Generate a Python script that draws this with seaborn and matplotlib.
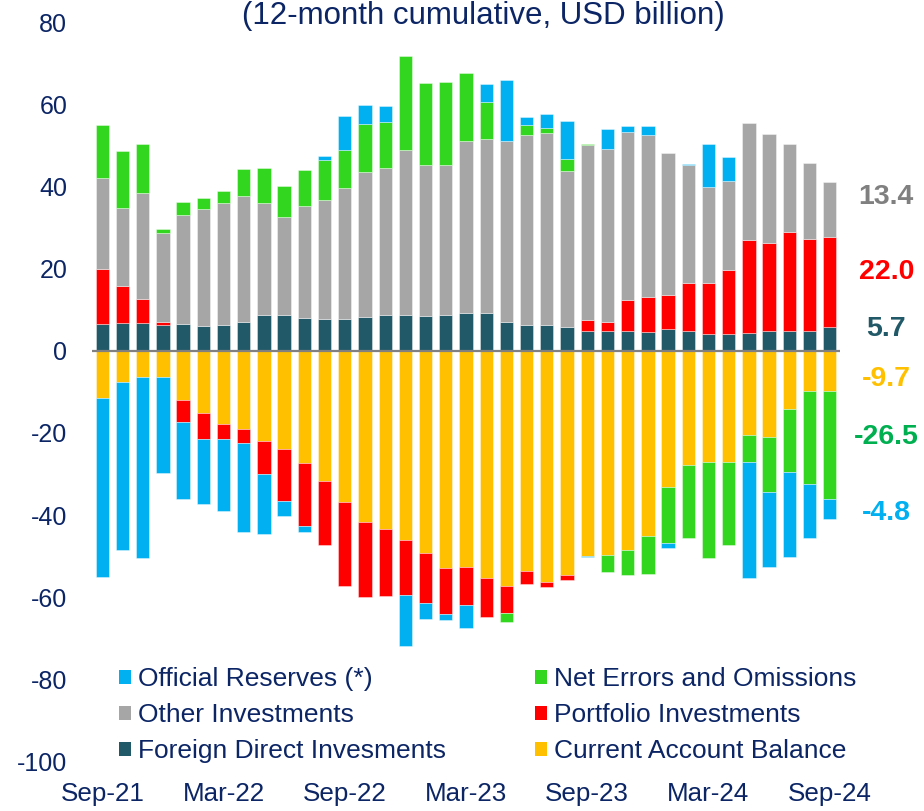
import numpy as np
import pandas as pd
import matplotlib
matplotlib.use("Agg")
import matplotlib.pyplot as plt
from matplotlib.patches import Patch
import seaborn as sns

# ---------------- data ----------------
months = pd.date_range("2021-09-01", "2024-09-01", freq="MS").strftime("%b-%y").tolist()

current_account = [-11.4, -7.6, -6.5, -6.5, -12.0, -15.2, -17.8, -19.1, -22.0, -23.9,
                   -27.4, -31.7, -36.9, -41.6, -43.3, -46.0, -49.2, -53.0, -52.7, -55.3,
                   -57.2, -53.6, -56.3, -54.6, -50.0, -49.6, -48.6, -45.1, -33.1, -27.8,
                   -27.0, -27.2, -20.5, -20.9, -14.3, -9.9, -9.7]
fdi = [6.5, 6.7, 6.7, 6.3, 6.6, 5.9, 6.2, 6.9, 8.6, 8.8,
       8.0, 7.6, 7.6, 8.1, 8.8, 8.6, 8.4, 8.8, 9.1, 9.1,
       7.1, 6.2, 6.3, 5.8, 4.7, 4.7, 4.8, 4.5, 5.4, 4.7,
       4.0, 4.0, 4.3, 4.7, 4.8, 4.7, 5.7]
portfolio = [13.5, 9.0, 6.0, 0.8, -5.3, -6.2, -3.7, -3.3, -8.0, -12.6,
             -15.2, -15.7, -20.3, -18.3, -16.4, -13.4, -12.2, -11.1, -9.2, -9.6,
             -6.6, -3.2, -1.3, -1.2, 2.8, 2.4, 7.5, 8.5, 8.2, 11.9,
             12.4, 15.7, 22.6, 21.4, 24.0, 22.4, 22.0]
other_inv = [22.1, 19.1, 25.8, 21.6, 26.5, 28.7, 29.8, 30.7, 27.4, 23.7,
             27.1, 29.2, 32.1, 35.3, 35.6, 40.3, 36.7, 36.5, 42.0, 42.4,
             43.9, 46.3, 46.7, 38.0, 42.6, 42.1, 41.0, 39.6, 34.4, 28.6,
             23.5, 21.7, 28.6, 26.7, 21.6, 18.6, 13.4]
net_errors = [12.8, 13.7, 11.8, 1.0, 3.0, 2.6, 2.9, 6.6, 8.4, 7.7,
              8.9, 9.5, 9.2, 11.8, 11.3, 22.8, 20.1, 20.2, 16.4, 9.0,
              -2.2, 2.5, 1.2, 2.9, 0.3, -4.2, -6.1, -9.3, -13.7, -17.7,
              -23.4, -20.0, -6.7, -13.6, -15.2, -22.6, -26.5]
reserves = [-43.6, -40.9, -43.9, -23.3, -18.8, -15.9, -17.4, -21.8, -14.5, -3.7,
            -1.5, 1.1, 8.2, 4.7, 3.9, -12.4, -3.9, -1.4, -5.5, 4.4,
            14.9, 1.9, 3.5, 9.1, -0.3, 4.7, 1.5, 2.0, -1.1, 0.3,
            10.5, 5.8, -28.1, -18.2, -20.8, -13.1, -4.8]

series_names = ["Current Account Balance", "Foreign Direct Invesments", "Portfolio Investments",
                "Other Investments", "Net Errors and Omissions", "Official Reserves (*)"]
series_values = [current_account, fdi, portfolio, other_inv, net_errors, reserves]
series_colors = ["#FFC000", "#215968", "#FF0000", "#A6A6A6", "#33D61E", "#00B0F0"]
label_colors = ["#FFC000", "#215968", "#FF0000", "#808080", "#00B050", "#00B0F0"]

yticks = [-100, -80, -60, -40, -20, 0, 20, 40, 60, 80]
xtick_labels = ["Sep-21", "Mar-22", "Sep-22", "Mar-23", "Sep-23", "Mar-24", "Sep-24"]

NAVY = "#0B2565"

# ---------------- figure ----------------
sns.set_theme(style="white")
plt.rcParams["font.family"] = ["Liberation Sans", "DejaVu Sans"]

fig = plt.figure(figsize=(9.24, 8.11), dpi=100)
ax = fig.add_axes([92.2 / 924, 49.4 / 811, (839.8 - 92.2) / 924, (761.6 - 22.0) / 811])

df = pd.DataFrame({"month": months})
for n, v in zip(series_names, series_values):
    df[n] = v

pos_base = np.zeros(len(months))
neg_base = np.zeros(len(months))
for n, c in zip(series_names, series_colors):
    vals = df[n].to_numpy()
    bottoms = np.where(vals >= 0, pos_base, neg_base)
    sns.barplot(data=df, x="month", y=n, order=months, color=c, saturation=1,
                width=0.66, bottom=bottoms, errorbar=None, ax=ax,
                edgecolor=(1, 1, 1, 0.45), linewidth=0.6)
    pos_base = pos_base + np.where(vals >= 0, vals, 0)
    neg_base = neg_base + np.where(vals < 0, vals, 0)

ax.axhline(0, color="#808080", lw=1.6, zorder=10)

ax.set_xlim(-0.5, len(months) - 0.5)
ax.set_ylim(-100, 80)
ax.set_yticks(yticks)
ax.set_yticklabels([str(t) for t in yticks])
tick_pos = [months.index(m) for m in xtick_labels]
ax.set_xticks(tick_pos)
ax.set_xticklabels(xtick_labels)
ax.set_xlabel("")
ax.set_ylabel("")
ax.tick_params(axis="y", length=0, pad=18, labelsize=18, labelcolor=NAVY)
ax.tick_params(axis="x", length=0, pad=15, labelsize=18.7, labelcolor=NAVY)
for s in ax.spines.values():
    s.set_visible(False)
ax.grid(False)

# title (sits at the very top edge)
fig.text(483 / 924, 1 - 24 / 811, "(12-month cumulative, USD billion)", ha="center",
         va="baseline", fontsize=22.5, color=NAVY)

# right-hand labels for the latest values
label_y = [-6.8, 5.4, 19.2, 37.3, -20.9, -39.5]
for v, col, yy in zip(series_values, label_colors, label_y):
    ax.text(38.8, yy, f"{v[-1]:.1f}", ha="center", va="center", fontsize=20.5,
            fontweight="bold", color=col, clip_on=False)

# legend
order = [5, 3, 1, 4, 2, 0]
handles = [Patch(facecolor=series_colors[i], edgecolor="none") for i in order]
labels = [series_names[i] for i in order]
leg = fig.legend(handles, labels, ncol=2, loc="upper left",
                 bbox_to_anchor=(119 / 924, (811 - 667) / 811), bbox_transform=fig.transFigure,
                 frameon=False, fontsize=19, borderpad=0, borderaxespad=0,
                 handlelength=0.45, handleheight=0.45, handletextpad=0.26,
                 columnspacing=3.4, labelspacing=0.46)
for t in leg.get_texts():
    t.set_color(NAVY)

fig.savefig("out.png", dpi=100)
